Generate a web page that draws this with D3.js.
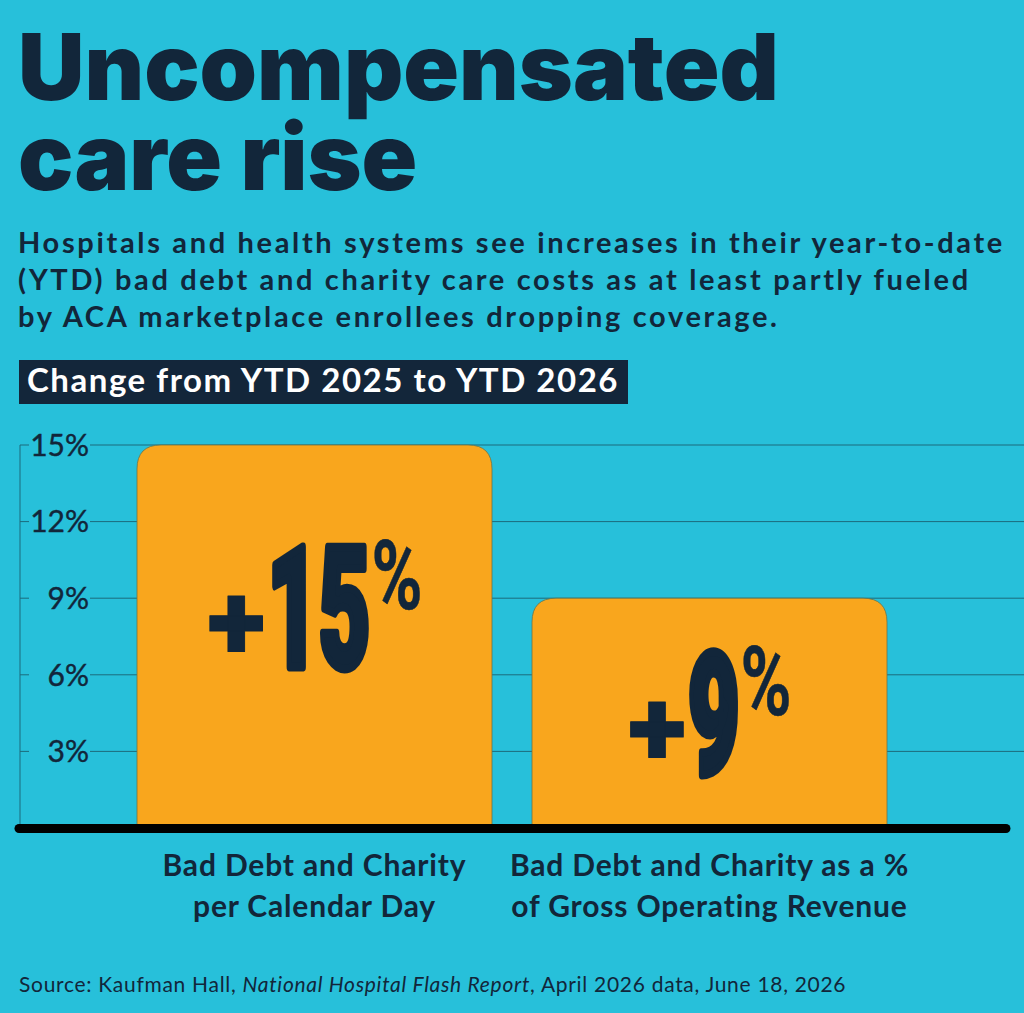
<!DOCTYPE html>
<html>
<head>
<meta charset="utf-8">
<script src="https://cdn.jsdelivr.net/npm/d3@7"></script>
<style>
  body { margin: 0; background: #27c0da; }
  svg { display: block; }
</style>
</head>
<body>
<svg id="chart"></svg>
<script>
// ---- data ----
const titleLines = ['Uncompensated', 'care rise'];
const subtitleLines = [
  'Hospitals and health systems see increases in their year-to-date',
  '(YTD) bad debt and charity care costs as at least partly fueled',
  'by ACA marketplace enrollees dropping coverage.'
];
const chartHeading = 'Change from YTD 2025 to YTD 2026';
const categories = ['perDay', 'pctRevenue'];
const categoryLines = [
  ['Bad Debt and Charity', 'per Calendar Day'],
  ['Bad Debt and Charity as a %', 'of Gross Operating Revenue']
];
const values = [15, 9];
const yTicks = [3, 6, 9, 12, 15];
const sourceParts = [
  {text: 'Source: Kaufman Hall, ', italic: false},
  {text: 'National Hospital Flash Report', italic: true},
  {text: ', April 2026 data, June 18, 2026', italic: false}
];

// ---- setup ----
const W = 1024, H = 1013;
const ink = '#12263a';
const svg = d3.select('#chart').attr('width', W).attr('height', H);
svg.append('rect').attr('width', W).attr('height', H).attr('fill', '#27c0da');

// letter-spacing that makes a text span the wanted width
function track(sel, target) {
  const node = sel.node();
  const w = node.getComputedTextLength();
  return (target - w) / node.textContent.length;
}

// Title
svg.append('g').selectAll('text')
  .data(titleLines)
  .join('text')
  .attr('x', 18)
  .attr('y', (d, i) => 100 + i * 90)
  .attr('font-family', 'Inter, sans-serif')
  .attr('font-weight', 900)
  .attr('font-size', 92)
  .attr('fill', ink)
  .text(d => d);

// Subtitle
const sub = svg.append('g')
  .attr('font-family', 'Lato, sans-serif')
  .attr('font-weight', 700)
  .attr('font-size', 29)
  .attr('fill', ink);
const subText = sub.selectAll('text')
  .data(subtitleLines)
  .join('text')
  .attr('x', 18)
  .attr('y', (d, i) => 253 + i * 37)
  .text(d => d);
sub.attr('letter-spacing', track(subText.filter((d, i) => i === 0), 987));

// Heading box
svg.append('rect')
  .attr('x', 19).attr('y', 360)
  .attr('width', 609).attr('height', 44)
  .attr('fill', '#13263a');
const heading = svg.append('text')
  .attr('x', 27).attr('y', 392)
  .attr('font-family', 'Lato, sans-serif')
  .attr('font-weight', 700)
  .attr('font-size', 33)
  .attr('fill', '#fff')
  .text(chartHeading);
heading.attr('letter-spacing', track(heading, 592));

// ---- scales ----
const yScale = d3.scaleLinear().domain([0, 15]).range([828, 445]);
const xScale = d3.scaleBand()
  .domain(categories)
  .range([137, 887])
  .paddingInner(0.1013)
  .paddingOuter(0);

const chart = svg.append('g');
const gridColor = '#1c6b7c';

// gridlines, broken around the tick labels
const ticks = chart.selectAll('.tick').data(yTicks).join('g').attr('class', 'tick');
ticks.append('line')
  .attr('x1', 20).attr('x2', 29)
  .attr('y1', d => yScale(d)).attr('y2', d => yScale(d))
  .attr('stroke', gridColor).attr('stroke-width', 1);
ticks.append('line')
  .attr('x1', 90).attr('x2', W)
  .attr('y1', d => yScale(d)).attr('y2', d => yScale(d))
  .attr('stroke', gridColor).attr('stroke-width', 1);
ticks.append('text')
  .attr('x', 89)
  .attr('y', d => yScale(d))
  .attr('dy', '0.36em')
  .attr('text-anchor', 'end')
  .attr('font-family', 'Lato, sans-serif')
  .attr('font-size', 30)
  .attr('fill', ink)
  .attr('stroke', ink)
  .attr('stroke-width', 0.4)
  .text(d => d + '%');

chart.append('line')
  .attr('x1', 20).attr('x2', 20)
  .attr('y1', yScale(15)).attr('y2', yScale(0))
  .attr('stroke', gridColor).attr('stroke-width', 1);

// bars with rounded top corners
function topRounded(x, y, w, h, r) {
  return `M${x},${y + h}V${y + r}Q${x},${y} ${x + r},${y}H${x + w - r}Q${x + w},${y} ${x + w},${y + r}V${y + h}Z`;
}
chart.selectAll('.bar')
  .data(values)
  .join('path')
  .attr('class', 'bar')
  .attr('d', (d, i) => topRounded(xScale(categories[i]), yScale(d), xScale.bandwidth(), yScale(0) - yScale(d), 24))
  .attr('fill', '#f9a61d')
  .attr('stroke', '#6f7446')
  .attr('stroke-width', 0.8);

// big value labels (+NN%)
const labelShift = [-30, 0];
values.forEach((v, i) => {
  const g = chart.append('g');
  const style = sel => sel
    .attr('font-family', 'Roboto, sans-serif')
    .attr('fill', ink)
    .attr('stroke', ink)
    .attr('stroke-linejoin', 'round')
    .attr('vector-effect', 'non-scaling-stroke');

  const plus = g.append('text').text('+').attr('font-size', 108).call(style)
    .attr('font-weight', 900).attr('stroke-width', 1);
  const num = g.append('text').text(String(v)).attr('font-size', 168).call(style)
    .attr('font-weight', 900).attr('stroke-width', 7);
  const pct = g.append('text').text('%').attr('font-size', 96).call(style)
    .attr('font-weight', 700).attr('stroke-width', 0.5);

  const sx = 0.53, px = 0.72;
  const wPlus = plus.node().getComputedTextLength();
  const wNum = num.node().getComputedTextLength() * sx;
  const wPct = pct.node().getComputedTextLength() * px;
  const gap = 2;
  const total = wPlus + gap + wNum + wPct;
  plus.attr('transform', `translate(0,-8)`);
  num.attr('transform', `translate(${wPlus + gap},0) scale(${sx},1)`);
  pct.attr('transform', `translate(${wPlus + gap + wNum + 1},-58) scale(${px},1)`);

  const cx = xScale(categories[i]) + xScale.bandwidth() / 2;
  const mid = (yScale(v) + yScale(0)) / 2;
  g.attr('transform', `translate(${cx - total / 2},${mid + 60 + labelShift[i]})`);
});

// baseline
chart.append('line')
  .attr('x1', 19).attr('x2', 1006)
  .attr('y1', yScale(0) + 0.5).attr('y2', yScale(0) + 0.5)
  .attr('stroke', '#000')
  .attr('stroke-width', 9)
  .attr('stroke-linecap', 'round');

// category labels
const cats = chart.append('g')
  .attr('font-family', 'Lato, sans-serif')
  .attr('font-weight', 700)
  .attr('font-size', 30)
  .attr('fill', ink);
const catText = cats.selectAll('.cat')
  .data(categoryLines)
  .join('text')
  .attr('class', 'cat')
  .attr('text-anchor', 'middle')
  .each(function(lines, i) {
    const cx = xScale(categories[i]) + xScale.bandwidth() / 2;
    d3.select(this).selectAll('tspan')
      .data(lines)
      .join('tspan')
      .attr('x', cx)
      .attr('y', (d, j) => 876 + j * 41)
      .text(d => d);
  });
cats.attr('letter-spacing', track(catText.filter((d, i) => i === 0).select('tspan'), 304));

// source
const source = svg.append('text')
  .attr('x', 19).attr('y', 992)
  .attr('font-family', 'Lato, sans-serif')
  .attr('font-size', 21)
  .attr('fill', ink);
source.selectAll('tspan')
  .data(sourceParts)
  .join('tspan')
  .attr('font-style', d => d.italic ? 'italic' : 'normal')
  .text(d => d.text);
source.attr('letter-spacing', track(source, 827));
</script>
</body>
</html>
